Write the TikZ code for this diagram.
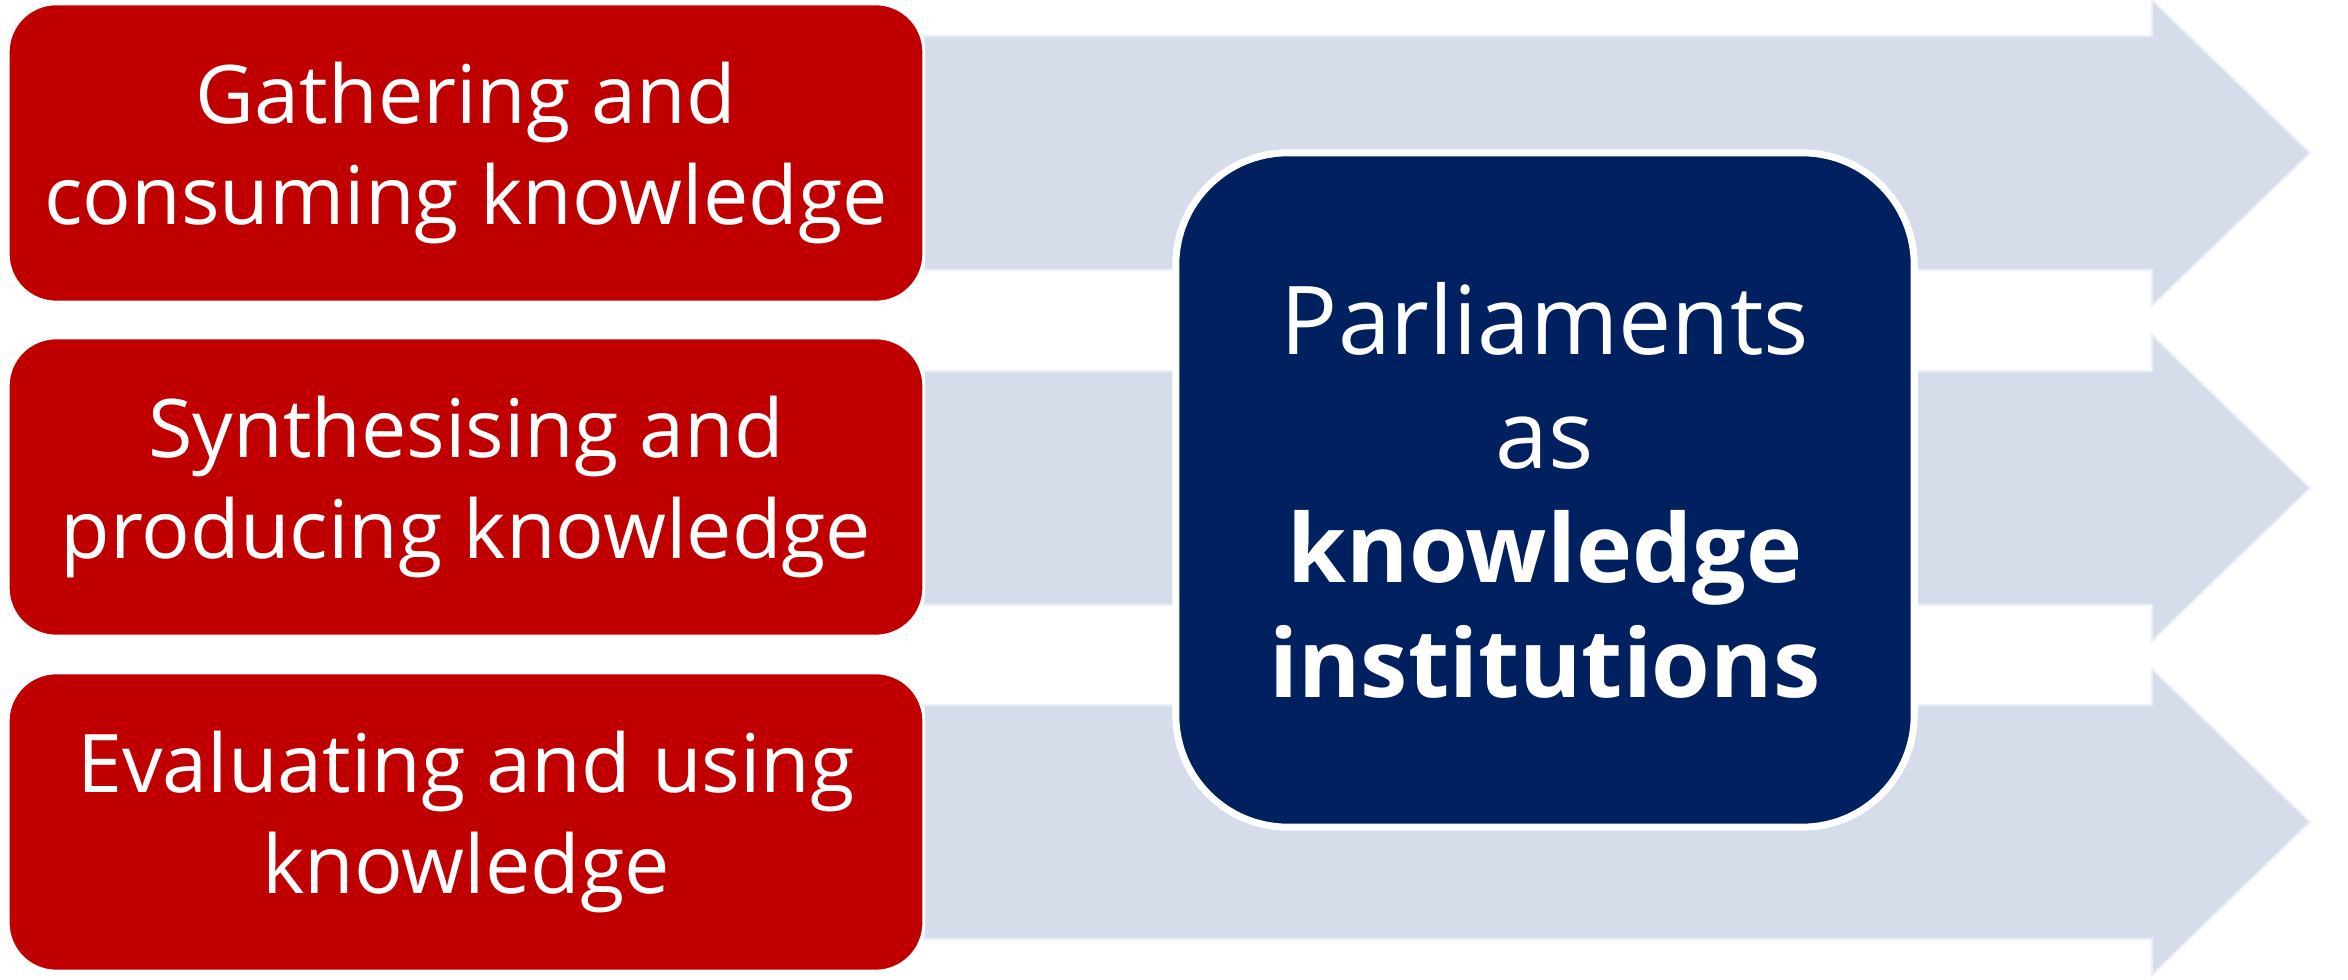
\documentclass[tikz,border=0pt]{standalone}
\usepackage{fontspec}
\setmainfont{Open Sans}
\definecolor{stagered}{HTML}{C00000}
\definecolor{hubblue}{HTML}{002060}
\definecolor{flowgrey}{HTML}{D6DCEA}
\tikzset{
  stage/.style={draw=white,line width=0.8pt,fill=stagered,rounded corners=0.48cm,
    minimum width=9.15cm,minimum height=2.98cm,align=center,text=white,
    font=\fontsize{23}{28.5}\selectfont},
  hub/.style={draw=white,line width=2pt,fill=hubblue,rounded corners=1.12cm,
    minimum width=7.38cm,minimum height=6.74cm,align=center,text=white,
    font=\fontsize{27}{32.5}\selectfont},
  flow/.style={fill=flowgrey,draw=white!55!flowgrey,line width=0.6pt}
}
\begin{document}
\begin{tikzpicture}[x=0.01cm,y=-0.01cm]
\useasboundingbox (0,0) rectangle (2348,980);
% block arrows behind the boxes
\foreach \yc in {153,488,822}
  \draw[flow] (924,\yc-117) -- (2152,\yc-117) -- (2152,\yc-153) -- (2310,\yc)
    -- (2152,\yc+153) -- (2152,\yc+117) -- (924,\yc+117) -- cycle;
% the three stages
\node[stage] (gather) at (466,153) {Gathering and\\consuming knowledge};
\node[stage] (synth) at (466,487) {Synthesising and\\producing knowledge};
\node[stage] (evaluate) at (466,822) {Evaluating and using\\knowledge};
% centre box
\node[hub] (parl) at (1545,490) {Parliaments\\as\\\textbf{knowledge}\\\textbf{institutions}};
\end{tikzpicture}
\end{document}
